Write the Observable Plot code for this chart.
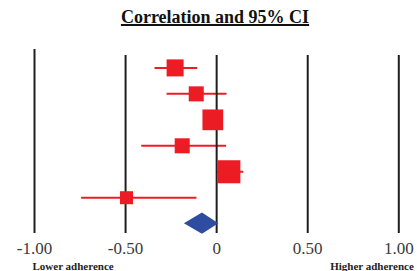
<!DOCTYPE html>
<html><head><meta charset="utf-8">
<script src="https://cdn.jsdelivr.net/npm/d3@7"></script>
<script src="https://cdn.jsdelivr.net/npm/@observablehq/plot@0.6"></script>
<style>
body{margin:0;background:#fff;}
#title{box-sizing:border-box;width:417px;height:30px;padding:7px 0 0 13px;font:bold 18px/20px "Liberation Serif",serif;text-align:center;text-decoration:underline;text-decoration-thickness:1.5px;color:#111;}
</style></head><body>
<div id="title">Correlation and 95% CI</div>
<div id="chart"></div>
<script>
// Data
const rows      = [1, 2, 3, 4, 5, 6];
const estimates = [-0.228, -0.112, -0.021, -0.189, 0.067, -0.495];
const lower     = [-0.341, -0.275, -0.060, -0.414, 0.000, -0.744];
const upper     = [-0.107, 0.054, 0.020, 0.052, 0.146, -0.111];
const weights   = [15.5, 12.1, 23.0, 12.1, 28.4, 9.1];
const pooledRow = 7;
const pooledEst = -0.078;
const pooledLo  = -0.177;
const pooledHi  = 0.012;
const gridValues = [-1, -0.5, 0, 0.5, 1];
const tickLabels = ["-1.00", "-0.50", "0", "0.50", "1.00"];
const leftLabel  = "Lower adherence";
const rightLabel = "Higher adherence";

const RED = "#ec1c24", BLUE = "#2e4da0";
const table = rows.map((r, i) => ({row: r, est: estimates[i], lo: lower[i], hi: upper[i], w: weights[i]}));
const DH = 0.41; // diamond half-height in row units
const diamond = [
  {y: pooledRow - DH, x1: pooledEst, x2: pooledEst},
  {y: pooledRow, x1: pooledLo, x2: pooledHi},
  {y: pooledRow + DH, x1: pooledEst, x2: pooledEst}
];

const chart = Plot.plot({
  width: 417,
  height: 241,
  marginTop: 25,
  marginBottom: 38,
  marginLeft: 34,
  marginRight: 18.7,
  style: {fontFamily: "'Liberation Serif', serif", background: "#fff", overflow: "visible"},
  x: {domain: [-1, 1], axis: null},
  y: {domain: [1, 7], reverse: true, insetTop: 12.4, insetBottom: 9.8, axis: null},
  r: {range: [0, 13]},
  marks: [
    Plot.link(table, {x1: "lo", x2: "hi", y1: "row", y2: "row", stroke: RED, strokeWidth: 2}),
    Plot.ruleX(gridValues.slice(1), {stroke: "#1e1e1e", strokeWidth: 2}),
    Plot.ruleX(gridValues.slice(0, 1), {stroke: "#1e1e1e", strokeWidth: 2, insetTop: -6}),
    Plot.dot(table, {x: "est", y: "row", r: "w", symbol: "square", fill: RED, stroke: "none"}),
    Plot.areaX(diamond, {y: "y", x1: "x1", x2: "x2", fill: BLUE}),
    Plot.axisX({ticks: gridValues, tickFormat: (d, i) => tickLabels[gridValues.indexOf(d)], tickSize: 0, tickPadding: 8, fontSize: 17, fill: "#3a3a3a", label: null}),
    Plot.text([leftLabel], {frameAnchor: "bottom-left", text: d => d, textAnchor: "start", lineAnchor: "top", dx: -2, dy: 29, fontSize: 11, fontWeight: "bold", fill: "#222"}),
    Plot.text([rightLabel], {frameAnchor: "bottom-right", text: d => d, textAnchor: "end", lineAnchor: "top", dx: 15, dy: 29, fontSize: 11, fontWeight: "bold", fill: "#222"})
  ]
});
document.getElementById("chart").appendChild(chart);
</script>
</body></html>
